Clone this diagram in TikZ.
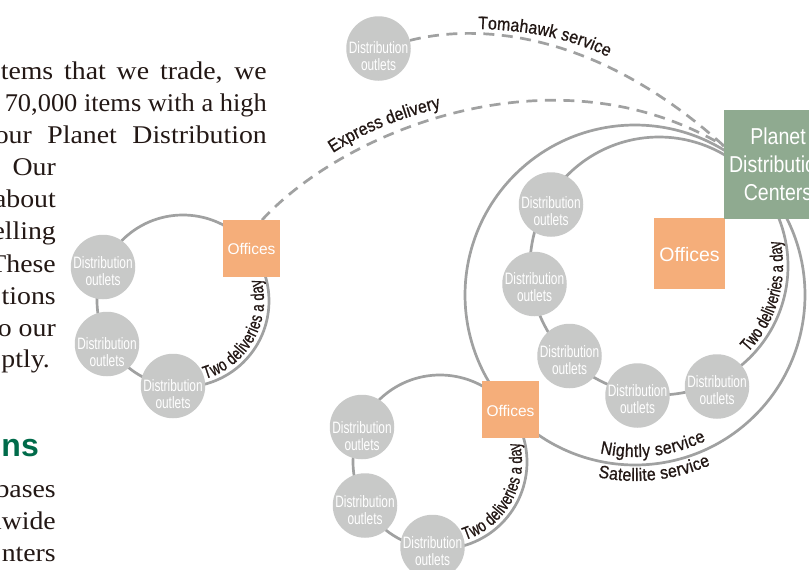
\documentclass[tikz,border=0pt]{standalone}
\usepackage{fontspec}
\setmainfont[FakeStretch=1.09]{Liberation Serif}
\usetikzlibrary{calc,backgrounds,decorations.text}
\newfontfamily\labfam[FakeStretch=0.72]{Liberation Sans}
\newfontfamily\curvefam[FakeStretch=0.72,FakeBold=0.8]{Liberation Sans}
\newfontfamily\curvewide[FakeStretch=0.88,FakeBold=0.8]{Liberation Sans}
\newfontfamily\planetfam[FakeStretch=0.85]{Liberation Sans}
\newfontfamily\headfam{Liberation Sans}
\newcommand{\cfont}{\curvefam\fontsize{18}{18}\selectfont}
\newcommand{\wfont}{\curvewide\fontsize{18}{18}\selectfont}
\newcommand{\outlab}[1]{\smash{\raisebox{-#1pt}{\parbox{64pt}{\centering\baselineskip=17pt Distribution\\outlets}}}}
\newcommand{\offlab}[1]{\smash{\raisebox{-#1pt}{Offices}}}
\definecolor{ringgray}{HTML}{A0A1A1}
\definecolor{outletgray}{HTML}{C8C9C8}
\definecolor{officeorange}{HTML}{F5AE7A}
\definecolor{planetgreen}{HTML}{8FAA90}
\definecolor{inkdark}{HTML}{231815}
\definecolor{headgreen}{HTML}{006B4A}
\tikzset{
  outlet/.style={circle,fill=outletgray,minimum size=64.5pt,inner sep=0pt,text=white,
    font=\labfam\fontsize{16.5}{17}\selectfont},
  officebox/.style={fill=officeorange,inner sep=0pt,text=white},
  planetbox/.style={fill=planetgreen,inner sep=0pt,text=white,align=center,minimum width=108pt,minimum height=109pt,
    font=\planetfam\fontsize{23}{28}\selectfont},
  ring/.style={draw=ringgray,line width=2.7pt},
  dashline/.style={draw=ringgray,line width=2.7pt,dash pattern=on 11pt off 7.5pt},
  para/.style={inner sep=0pt,anchor=base east,text=inkdark,font=\fontsize{25.5}{28}\selectfont},
}
% \ringarc{from}{to}{centre}{radius}: counter-clockwise arc between two named nodes
\newcommand{\ringarc}[4]{%
  \draw[ring] let \p1=($(#1)-(#3)$), \p2=($(#2)-(#3)$),
    \n1={atan2(\y1,\x1)}, \n2={atan2(\y2,\x2)}, \n3={ifthenelse(\n2<\n1,\n2+360,\n2)} in
    ($(#3)+(\n1:#4)$) arc[start angle=\n1,end angle=\n3,radius=#4];}
% \curvetext{font}{centre}{radius}{from}{to}{text}
\newcommand{\curvetext}[6]{%
  \path[decorate,decoration={text color=inkdark,text along path,text align={fit to path},text={|#1|#6}}]
    ($(#2)+(#4:#3)$) arc[start angle=#4,end angle=#5,radius=#3];}
\begin{document}
\begin{tikzpicture}[x=1pt,y=-1pt]
\useasboundingbox (0,0) rectangle (809,570);
% paragraph text
\node[para] (l1) at (267,79) {\makebox[266pt][s]{tems that we trade, we}};
\node[para] (l2) at (267,111) {\resizebox{262pt}{\height}{70,000 items with a high}};
\node[para] (l3) at (267,143) {\makebox[272pt][s]{our Planet Distribution}};
\node[para] (l4) at (56,175) {Our};
\node[para] (l5) at (56,207) {about};
\node[para] (l6) at (56,239) {elling};
\node[para] (l7) at (56,272) {These};
\node[para] (l8) at (56,304) {tions};
\node[para] (l9) at (56,336) {o our};
\node[para] (l10) at (50,367) {ptly.};
\node[inner sep=0pt,anchor=base east,text=headgreen,font=\headfam\bfseries\fontsize{32}{32}\selectfont] (head) at (39,456) {ns};
\node[para] (l11) at (56,497) {bases};
\node[para] (l12) at (56,529) {nwide};
\node[para] (l13) at (56,561) {nters};
% centres of the rings
\coordinate (cL) at (183,301);
\coordinate (cB) at (440,462);
\coordinate (cM) at (659,266);
\coordinate (cO) at (635,295);
\coordinate (expstart) at (262,220);
\coordinate (planetin) at (724,146);
% nodes
\node[outlet] (top) at (378.5,48.5) {\outlab{12}};
\node[outlet] (a1) at (103,267) {\outlab{8}};
\node[outlet] (a2) at (107,344) {\outlab{12}};
\node[outlet] (a3) at (173,386) {\outlab{12}};
\node[officebox,minimum width=57pt,minimum height=57pt,font=\headfam\fontsize{15.5}{19}\selectfont] (off1) at (251.5,248.5) {\offlab{6}};
\node[outlet] (m1) at (551,204.5) {\outlab{11}};
\node[outlet] (m2) at (534.5,284) {\outlab{7}};
\node[outlet] (m3) at (569.5,356) {\outlab{8}};
\node[outlet] (m4) at (637.5,395.5) {\outlab{8}};
\node[outlet] (m5) at (717,386.5) {\outlab{8}};
\node[officebox,minimum width=71pt,minimum height=71pt,font=\headfam\fontsize{19.5}{22}\selectfont] (off2) at (689.5,253.5) {\offlab{8}};
\node[outlet] (b1) at (362,427) {\outlab{13}};
\node[outlet] (b2) at (365,505.5) {\outlab{9}};
\node[outlet] (b3) at (432.5,547) {\outlab{8}};
\node[officebox,minimum width=57pt,minimum height=57pt,font=\headfam\fontsize{15.5}{19}\selectfont] (off3) at (510.5,409.5) {\offlab{7}};
\node[planetbox] (planet) at (778,164.5) {Planet\\Distribution\\Centers};
% connectors behind the nodes
\begin{pgfonlayer}{background}
\fill[white] (0,0) rectangle (809,570);
\ringarc{off1}{a1}{cL}{86pt}
\ringarc{a1}{a2}{cL}{86pt}
\ringarc{a2}{a3}{cL}{86pt}
\ringarc{a3}{off1}{cL}{86pt}
\ringarc{off3}{b1}{cB}{87pt}
\ringarc{b1}{b2}{cB}{87pt}
\ringarc{b2}{b3}{cB}{87pt}
\ringarc{b3}{off3}{cB}{87pt}
\ringarc{planet}{m1}{cM}{129pt}
\ringarc{m1}{m2}{cM}{129pt}
\ringarc{m2}{m3}{cM}{129pt}
\ringarc{m3}{m4}{cM}{129pt}
\ringarc{m4}{m5}{cM}{129pt}
\ringarc{m5}{planet}{cM}{129pt}
\ringarc{planet}{off3}{cO}{170pt}
\ringarc{off3}{planet}{cO}{170pt}
\draw[dashline] (top) .. controls (470,25) and (590,25) .. (planetin);
\draw[dashline] (expstart) .. controls (345,130) and (555,45) .. (planetin);
\end{pgfonlayer}
% curved labels
\curvetext{\cfont}{cL}{81pt}{-74}{16}{Two deliveries a day}
\curvetext{\cfont}{cB}{82pt}{-72}{14}{Two deliveries a day}
\curvetext{\cfont}{cM}{124pt}{-44}{12}{Two deliveries a day}
\curvetext{\wfont}{cO}{162pt}{-102.5}{-64}{Nightly service}
\curvetext{\wfont}{cO}{186pt}{-101.5}{-66}{Satellite service}
\path[decorate,decoration={text color=inkdark,text along path,text align={fit to path},text={|\wfont|Express delivery}}]
  (333,153) .. controls (365,132) and (400,118) .. (441,108);
\path[decorate,decoration={text color=inkdark,text along path,text align={fit to path},text={|\wfont|Tomahawk service}}]
  (478,29) .. controls (520,30) and (565,36) .. (608,57);
\end{tikzpicture}
\end{document}
